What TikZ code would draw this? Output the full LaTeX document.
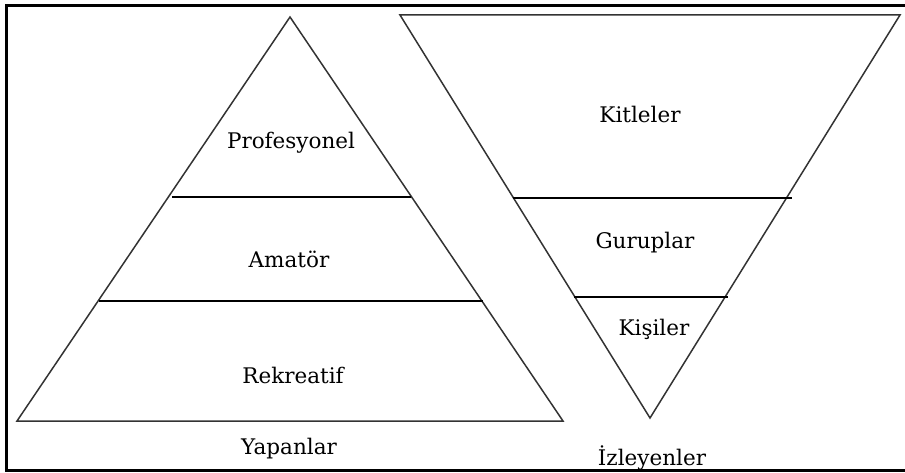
\documentclass[tikz,border=0pt]{standalone}
\usepackage{fontspec}
\setmainfont{DejaVu Serif}
\usepackage{tikz}

\begin{document}
\begin{tikzpicture}[%
  x=1pt, y=-1pt,
  edge/.style={draw=black!80, line width=1.5pt},
  layer/.style={draw=black, line width=1.6pt},
  lbl/.style={anchor=base, font=\fontsize{21.5}{25}\selectfont, inner sep=0pt}]
  \useasboundingbox (0,0) rectangle (905,473);
  % frame
  \draw[line width=3pt] (905,6) -- (6,6) -- (6,470) -- (905,470);
  % Yapanlar pyramid
  \coordinate (ytop) at (290,17);
  \coordinate (yleft) at (17,421);
  \coordinate (yright) at (563,421);
  \draw[edge] (ytop) -- (yleft) -- (yright) -- cycle;
  \coordinate (y1l) at (172,197);
  \coordinate (y1r) at (411,197);
  \coordinate (y2l) at (99,301);
  \coordinate (y2r) at (483,301);
  \draw[layer] (y1l) -- (y1r);
  \draw[layer] (y2l) -- (y2r);
  \node[lbl] (prof) at (291,149) {Profesyonel};
  \node[lbl] (amat) at (289,267) {Amatör};
  \node[lbl] (rekr) at (293,383) {Rekreatif};
  \node[lbl] (yap) at (289,454) {Yapanlar};
  % Izleyenler pyramid
  \coordinate (ileft) at (400,15);
  \coordinate (iright) at (900,15);
  \coordinate (ibot) at (650,418);
  \draw[edge] (ileft) -- (iright) -- (ibot) -- cycle;
  \coordinate (i1l) at (513,198);
  \coordinate (i1r) at (792,198);
  \coordinate (i2l) at (574,297);
  \coordinate (i2r) at (728,297);
  \draw[layer] (i1l) -- (i1r);
  \draw[layer] (i2l) -- (i2r);
  \node[lbl] (kitle) at (640,123) {Kitleler};
  \node[lbl] (gurup) at (645,248) {Guruplar};
  \node[lbl] (kisi) at (654,335) {Kişiler};
  \node[lbl] (izle) at (652,465) {İzleyenler};
\end{tikzpicture}
\end{document}
